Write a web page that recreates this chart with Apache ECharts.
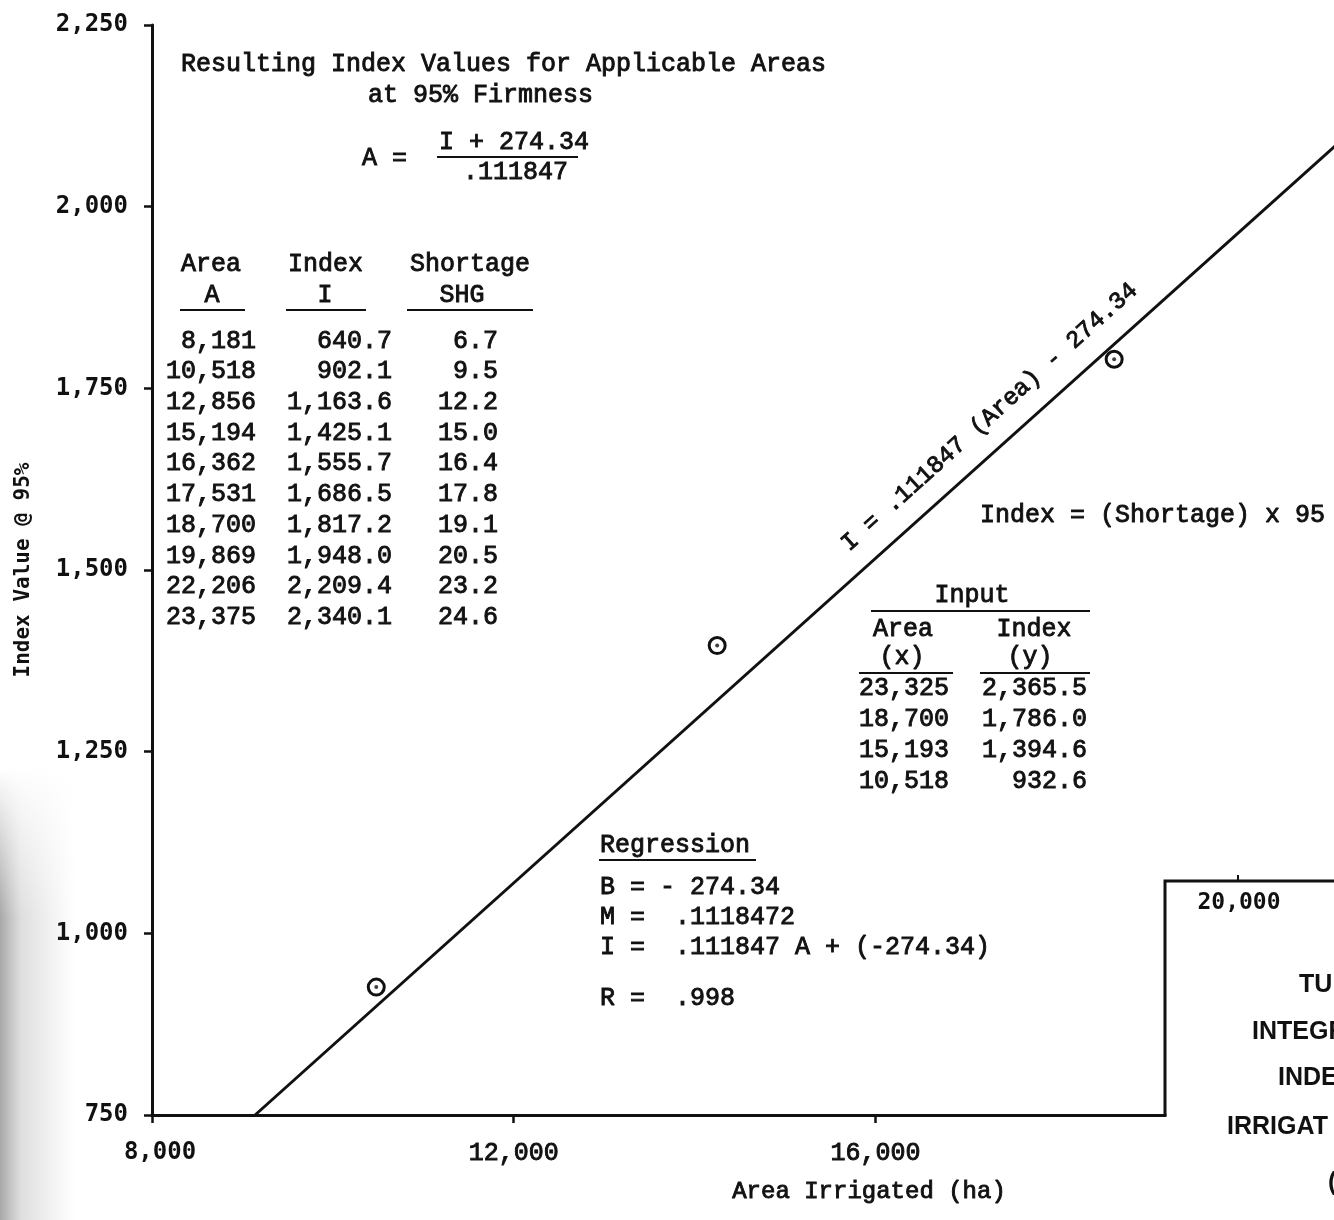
<!DOCTYPE html>
<html>
<head>
<meta charset="utf-8">
<script src="https://cdn.jsdelivr.net/npm/echarts@6/dist/echarts.min.js"></script>
<style>
  html, body { margin: 0; padding: 0; background: #fff; }
  #chart { width: 1334px; height: 1220px; }
</style>
</head>
<body>
<div id="chart"></div>
<script>
// Axis ticks
const areaTickValues = [8000, 12000, 16000, 20000];
const areaTickLabels = ['8,000', '12,000', '16,000', '20,000'];
const indexTickValues = [750, 1000, 1250, 1500, 1750, 2000, 2250];
const indexTickLabels = ['750', '1,000', '1,250', '1,500', '1,750', '2,000', '2,250'];

// Plotted observations (circled points)
const obsArea = [10480, 14250, 18640];
const obsIndex = [926, 1396, 1790];

// Fitted regression line end points
const fitArea = [9140, 21500];
const fitIndex = [750, 2130];

// Resulting index table
const resArea = ['8,181', '10,518', '12,856', '15,194', '16,362', '17,531', '18,700', '19,869', '22,206', '23,375'];
const resIndex = ['640.7', '902.1', '1,163.6', '1,425.1', '1,555.7', '1,686.5', '1,817.2', '1,948.0', '2,209.4', '2,340.1'];
const resShortage = ['6.7', '9.5', '12.2', '15.0', '16.4', '17.8', '19.1', '20.5', '23.2', '24.6'];

// Input table
const inArea = ['23,325', '18,700', '15,193', '10,518'];
const inIndex = ['2,365.5', '1,786.0', '1,394.6', '932.6'];

// Regression summary
const regLines = ['B = - 274.34', 'M =  .1118472', 'I =  .111847 A + (-274.34)'];
const regR = 'R =  .998';

const TYPE = '"Liberation Mono", "DejaVu Sans Mono", monospace';
const GOTH = '"DejaVu Sans Mono", monospace';
const INK = '#111';

function txt(text, x, y, opt) {
  opt = opt || {};
  return {
    type: 'text', x: x, y: y, z: opt.z || 50, rotation: opt.rotation || 0,
    style: {
      text: text,
      font: (opt.weight || 'normal') + ' ' + (opt.size || 25) + 'px ' + (opt.family || TYPE),
      fill: INK,
      textAlign: opt.align || 'left',
      textVerticalAlign: opt.valign || 'middle',
      stroke: opt.lw === 0 ? null : INK,
      lineWidth: opt.lw != null ? opt.lw : 0.9
    }
  };
}
function hline(x1, x2, y, w, z) {
  return { type: 'line', z: z || 50, shape: { x1: x1, y1: y, x2: x2, y2: y },
    style: { stroke: INK, lineWidth: w || 2 } };
}

const g = [];

// Scanner shading along the lower left edge of the sheet
g.push({ type: 'rect', z: 1, silent: true, shape: { x: 0, y: 768, width: 75, height: 452 },
  style: { fill: { type: 'linear', x: 0, y: 0, x2: 1, y2: 0, colorStops: [
    { offset: 0, color: 'rgba(60,60,60,0.45)' }, { offset: 0.28, color: 'rgba(90,90,90,0.2)' },
    { offset: 1, color: 'rgba(120,120,120,0)' }] } } });
g.push({ type: 'rect', z: 2, silent: true, shape: { x: 0, y: 768, width: 75, height: 150 },
  style: { fill: { type: 'linear', x: 0, y: 0, x2: 0, y2: 1, colorStops: [
    { offset: 0, color: 'rgba(255,255,255,1)' }, { offset: 1, color: 'rgba(255,255,255,0)' }] } } });

// Heading and conversion formula
g.push(txt('Resulting Index Values for Applicable Areas', 181, 64));
g.push(txt('at 95% Firmness', 368, 95));
g.push(txt('A =', 362, 158));
g.push(txt('I + 274.34', 439, 142));
g.push(hline(437, 578, 157, 2));
g.push(txt('.111847', 463, 172));

// Resulting index table
g.push(txt('Area', 181, 264));
g.push(txt('Index', 288, 264));
g.push(txt('Shortage', 410, 264));
g.push(txt('A', 212, 295, { align: 'center' }));
g.push(txt('I', 325, 295, { align: 'center' }));
g.push(txt('SHG', 462, 295, { align: 'center' }));
g.push(hline(180, 245, 310, 2));
g.push(hline(286, 366, 310, 2));
g.push(hline(407, 533, 310, 2));
resArea.forEach(function (v, i) {
  const y = 341 + i * 30.7;
  g.push(txt(v, 256, y, { align: 'right' }));
  g.push(txt(resIndex[i], 392, y, { align: 'right' }));
  g.push(txt(resShortage[i], 498, y, { align: 'right' }));
});

// Index relation note
g.push(txt('Index = (Shortage) x 95', 980, 515));

// Input table
g.push(txt('Input', 972, 595, { align: 'center' }));
g.push(hline(871, 1090, 611, 2));
g.push(txt('Area', 903, 629, { align: 'center' }));
g.push(txt('Index', 1034, 629, { align: 'center' }));
g.push(txt('(x)', 902, 657, { align: 'center' }));
g.push(txt('(y)', 1030, 657, { align: 'center' }));
g.push(hline(859, 953, 673, 2));
g.push(hline(980, 1090, 673, 2));
inArea.forEach(function (v, i) {
  const y = 688 + i * 31;
  g.push(txt(v, 949, y, { align: 'right' }));
  g.push(txt(inIndex[i], 1087, y, { align: 'right' }));
});

// Regression summary
g.push(txt('Regression', 600, 845));
g.push(hline(599, 756, 860, 2));
regLines.forEach(function (s, i) { g.push(txt(s, 600, 887 + i * 30)); });
g.push(txt(regR, 600, 998));

// Fitted line equation, written along the line
g.push(txt('I = .111847 (Area) - 274.34', 853, 556, { size: 24, valign: 'bottom', rotation: Math.atan(0.899) }));

// Axis title under the plot
g.push(txt('Area Irrigated (ha)', 869, 1192, { align: 'center', size: 24 }));

// Title block in the lower right corner
g.push({ type: 'polyline', z: 60, shape: { points: [[1165, 1116], [1165, 881], [1340, 881]] },
  style: { stroke: INK, lineWidth: 3, fill: null } });
g.push({ type: 'rect', z: 59, shape: { x: 1166.5, y: 882.5, width: 200, height: 400 },
  style: { fill: '#fff' } });
g.push({ type: 'line', z: 60, shape: { x1: 1238, y1: 875, x2: 1238, y2: 881 }, style: { stroke: INK, lineWidth: 2 } });
g.push(txt('20,000', 1239, 903, { align: 'center', size: 23, weight: 'bold', family: GOTH, lw: 0, z: 61 }));
const TB = 'bold 25px "Liberation Sans", Arial, sans-serif';
[['TU', 1299, 985], ['INTEGR', 1252, 1032], ['INDE', 1278, 1078], ['IRRIGAT', 1227, 1127], ['(', 1328, 1183]].forEach(function (t) {
  g.push({ type: 'text', x: t[1], y: t[2], z: 61,
    style: { text: t[0], font: TB, fill: INK, textAlign: 'left', textVerticalAlign: 'middle' } });
});

const chart = echarts.init(document.getElementById('chart'), null, { renderer: 'canvas' });
chart.setOption({
  backgroundColor: '#fff',
  animation: false,
  grid: { left: 152, top: 25, width: 1266, height: 1090, containLabel: false, outerBoundsMode: 'none' },
  xAxis: {
    type: 'value', min: 8000, max: 22000, interval: 4000,
    axisLine: { show: true, onZero: false, lineStyle: { color: INK, width: 3 } },
    axisTick: { show: true, inside: false, length: 8, lineStyle: { color: INK, width: 2.5 } },
    splitLine: { show: false },
    axisLabel: {
      margin: 26,
      formatter: function (v) {
        const i = areaTickValues.indexOf(v);
        if (i < 0 || v >= 20000) return '';
        return i === 0 ? '{b|' + areaTickLabels[i] + '}' : '{r|' + areaTickLabels[i] + '}';
      },
      rich: {
        b: { fontFamily: GOTH, fontWeight: 'bold', fontSize: 24, color: INK, padding: [0, 0, 0, 16] },
        r: { fontFamily: TYPE, fontSize: 25, color: INK, textBorderColor: INK, textBorderWidth: 0.9 }
      }
    }
  },
  yAxis: {
    type: 'value', min: 750, max: 2250, interval: 250,
    name: 'Index Value @ 95%', nameLocation: 'middle', nameGap: 118, nameRotate: 90,
    nameTextStyle: { fontFamily: GOTH, fontWeight: 'bold', fontSize: 21, color: INK },
    axisLine: { show: true, onZero: false, lineStyle: { color: INK, width: 3 } },
    axisTick: { show: true, inside: false, length: 8, lineStyle: { color: INK, width: 2.5 } },
    splitLine: { show: false },
    axisLabel: {
      margin: 24,
      fontFamily: GOTH, fontWeight: 'bold', fontSize: 24, color: INK,
      formatter: function (v) {
        const i = indexTickValues.indexOf(v);
        return i < 0 ? '' : indexTickLabels[i];
      }
    }
  },
  series: [
    {
      type: 'line', name: 'fit', symbol: 'none', clip: true,
      data: fitArea.map(function (a, i) { return [a, fitIndex[i]]; }),
      lineStyle: { color: INK, width: 3 }
    },
    {
      type: 'scatter', name: 'observed', symbol: 'circle', symbolSize: 16,
      data: obsArea.map(function (a, i) { return [a, obsIndex[i]]; }),
      itemStyle: { color: '#fff', borderColor: INK, borderWidth: 3, opacity: 1 }
    },
    {
      type: 'scatter', name: 'observed centre', symbol: 'circle', symbolSize: 4,
      data: obsArea.map(function (a, i) { return [a, obsIndex[i]]; }),
      itemStyle: { color: INK }
    }
  ],
  graphic: { elements: g }
});
</script>
</body>
</html>
